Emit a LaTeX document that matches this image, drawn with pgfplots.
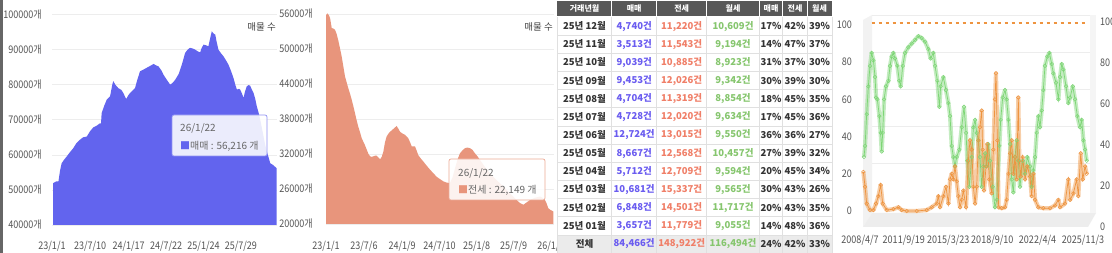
\documentclass[border=0pt]{standalone}
\usepackage{fontspec}
\setmainfont{Noto Sans CJK KR}
\newfontfamily\tickfam[FakeStretch=0.86]{Noto Sans CJK KR}
\usepackage{pgfplots}
\pgfplotsset{compat=1.18}
\usepackage{pgfplotstable}

\definecolor{mmblue}{HTML}{6264EE}
\definecolor{jssal}{HTML}{E8957C}
\definecolor{lblc}{HTML}{555555}
\definecolor{txtdark}{HTML}{333333}
\definecolor{tblue}{HTML}{6A5CF0}
\definecolor{tred}{HTML}{F07F68}
\definecolor{tgr}{HTML}{86C66E}
\definecolor{hdr}{HTML}{585858}
\definecolor{cgreen}{HTML}{7ED676}
\definecolor{corange}{HTML}{EE9440}

\newcommand\tickfont{\tickfam\fontsize{10.5}{12}\selectfont}
\newcommand\tabfont{\fontsize{9.5}{11}\selectfont\bfseries}

\pgfplotstableread{
x y
5 51900
20 52400
32 52400
40 55500
48 57600
60 58600
73 59500
90 60800
106 61900
120 63200
139 64300
155 65000
173 65200
189 66700
205 67800
222 68300
239 69000
244 69000
247 71900
260 74000
272 75700
289 76700
300 80000
305 81000
315 80000
330 79000
345 78500
355 77600
369 75900
380 77000
388 77600
400 78300
413 79000
425 81500
438 83800
455 84300
471 84800
490 85400
505 85900
518 85500
530 85200
545 84000
554 82900
571 81400
588 80000
600 80500
613 81400
630 83000
646 85700
655 87500
662 89000
675 90000
687 90500
700 90300
712 90000
725 89500
737 89200
745 90500
754 91400
768 91200
778 90900
788 93500
795 95200
805 94500
812 94300
820 92000
828 90000
840 89000
853 88100
865 87000
878 85700
890 84000
903 81900
912 80000
920 78600
930 78800
936 78600
945 77500
953 76200
960 78000
969 79500
978 79900
986 79700
995 78500
1003 77600
1011 76000
1019 73800
1028 72000
1036 70000
1050 66000
1060 63000
1069 60952
1080 58800
1086 57600
1100 57100
1117 56216
}\tA

\pgfplotstableread{
x y
0 55800
7 56100
14 55800
20 55300
28 53600
36 53500
44 53300
52 52600
60 51500
68 50200
77 48700
85 47000
93 45300
101 44300
109 43300
118 42300
126 41300
134 40200
142 39000
150 37800
158 36700
166 35800
175 34700
183 34100
191 33500
200 32700
208 32000
216 31600
224 31500
232 31600
240 31700
248 31700
256 31400
265 31100
273 31500
281 32400
289 34000
297 35000
306 35500
314 35800
330 36300
346 36800
355 36300
363 35800
375 35500
387 35300
395 35000
403 34700
412 34000
420 33300
428 33300
436 33300
444 32600
452 31800
465 31200
477 30700
493 30000
510 29300
526 28700
542 28100
558 27700
575 27300
591 27100
607 27000
620 28000
632 29500
644 31000
656 32100
668 32600
681 33000
693 33100
705 33000
718 32700
730 32100
742 31600
754 31000
778 29800
803 28700
836 27500
869 26400
900 25300
934 24100
950 23600
967 23300
983 23700
999 24100
1024 24500
1048 24700
1060 24500
1073 24100
1081 23500
1089 22700
1100 22400
1114 22149
}\tB

\pgfplotstableread{
x y
2008.58 29
2008.66 35
2008.79 52
2008.92 67
2009.05 78
2009.18 85
2009.32 81
2009.45 72
2009.53 61
2009.63 60
2009.79 51
2009.89 42
2009.97 32
2010.05 42
2010.16 60
2010.31 67
2010.50 70
2010.63 78
2010.76 83
2010.89 85
2011.02 82
2011.21 78
2011.36 70
2011.47 67
2011.63 78
2011.81 85
2012.07 88
2012.34 90
2012.60 92
2012.86 94
2013.12 93
2013.39 91
2013.65 87
2013.83 82
2014.04 85
2014.18 78
2014.36 70
2014.52 56
2014.62 67
2014.83 72
2015.04 65
2015.23 58
2015.36 51
2015.49 35
2015.62 29
2015.75 24
2015.88 29
2016.09 33
2016.28 45
2016.46 56
2016.62 42
2016.72 27
2016.88 13
2017.07 29
2017.20 45
2017.33 49
2017.46 42
2017.59 38
2017.72 29
2017.85 13
2017.98 24
2018.12 31
2018.25 24
2018.38 36
2018.51 27
2018.72 13
2018.90 2
2019.04 6
2019.25 35
2019.35 49
2019.51 61
2019.69 65
2019.82 60
2019.96 49
2020.09 36
2020.22 17
2020.35 10
2020.48 29
2020.61 38
2020.74 27
2020.87 13
2021.08 27
2021.27 20
2021.45 29
2021.66 24
2021.79 13
2021.93 22
2022.06 29
2022.19 42
2022.32 51
2022.45 45
2022.58 54
2022.71 65
2022.84 78
2023.03 83
2023.19 85
2023.37 79
2023.50 74
2023.71 69
2023.90 60
2024.03 72
2024.16 79
2024.29 76
2024.50 67
2024.68 58
2024.82 61
2025.03 67
2025.21 60
2025.39 51
2025.60 45
2025.73 49
2025.87 38
2026.00 33
2026.13 27
}\tG

\pgfplotstableread{
x y
2008.53 21
2008.66 13
2008.79 4
2009.05 0.5
2009.32 0.5
2009.53 4
2009.71 8
2009.89 14
2010.05 4
2010.37 0.5
2010.89 1
2011.29 2
2011.55 0.5
2011.94 0
2012.73 0
2013.52 0.5
2013.91 2
2014.31 4
2014.44 8
2014.57 2
2014.83 8
2015.04 13
2015.23 4
2015.36 17
2015.49 20
2015.62 17
2015.75 24
2015.88 16
2016.01 8
2016.15 2
2016.28 6
2016.41 11
2016.62 2
2016.80 27
2016.93 38
2017.07 33
2017.20 13
2017.33 4
2017.46 13
2017.59 38
2017.72 45
2017.85 54
2017.93 33
2018.04 11
2018.20 24
2018.30 36
2018.46 17
2018.64 9.5
2018.77 33
2018.90 60
2018.98 74
2019.09 38
2019.19 2
2019.43 1.5
2019.69 2
2019.82 6
2019.96 20
2020.09 31
2020.22 38
2020.35 20
2020.48 29
2020.61 17
2020.74 61
2020.82 27
2020.93 18.5
2021.08 29
2021.27 17
2021.45 24
2021.66 18.5
2021.79 8
2021.93 20
2022.06 6
2022.32 2
2022.71 1.5
2023.24 1.5
2023.63 3
2023.90 6
2024.03 2
2024.42 4
2024.68 17
2024.82 6
2025.08 9.5
2025.34 17
2025.47 8
2025.66 31
2025.82 17
2026.00 24
2026.13 20
}\tO

\newcommand{\trow}[8]{%
  \node[tc,text=txtdark] at (584.5,#1) {#2};
  \node[tc,text=tblue] at (634.2,#1) {#3};
  \node[tc,text=tred] at (681.7,#1) {#4};
  \node[tc,text=tgr] at (733,#1) {#5};
  \node[tc,text=txtdark] at (771,#1) {#6};
  \node[tc,text=txtdark] at (795,#1) {#7};
  \node[tc,text=txtdark] at (819.5,#1) {#8};
}

\begin{document}
\begin{tikzpicture}[x=1pt,y=1pt, tc/.style={inner sep=0pt,font=\tabfont}]
\clip (0,0) rectangle (1112,253);
\fill[white] (0,0) rectangle (1112,253);
\fill[black!60] (0,0) rectangle (2.5,253);

% ---------- chart 1 ----------
\begin{axis}[
  at={(52pt,28pt)}, anchor=south west, scale only axis,
  width=224.5pt, height=210.5pt,
  xmin=0, xmax=1117, ymin=40000, ymax=100000,
  axis line style={draw=none}, major tick length=0pt,
  scaled y ticks=false, scaled x ticks=false,
  ymajorgrids, grid style={color=black!7, line width=0.6pt},
  xtick={0,190,381,568,754,940},
  xticklabels={23/1/1,23/7/10,24/1/17,24/7/22,25/1/24,25/7/29},
  ytick={40000,50000,60000,70000,80000,90000,100000},
  yticklabels={40000개,50000개,60000개,70000개,80000개,90000개,100000개},
  tick label style={font=\tickfont, text=lblc, inner sep=0pt},
  xticklabel style={anchor=center, yshift=-21.5pt},
  yticklabel style={anchor=east, xshift=-10pt},
]
\addplot[fill=mmblue, draw=none] table {\tA} \closedcycle;
\end{axis}
\node[anchor=east, inner sep=0pt, text=black!75, font=\fontsize{9.5}{11}\selectfont] at (276,226) {매물 수};
\draw[mmblue!70, fill=white, fill opacity=0.88, rounded corners=2pt, line width=0.7pt] (172,97) rectangle (267,138);
\node[anchor=west, inner sep=0pt, text=black!60, font=\fontsize{10}{12}\selectfont] at (180,125) {26/1/22};
\node[anchor=west, inner sep=0pt, text=black!60, font=\fontsize{10}{12}\selectfont] at (180,107) {\textcolor{mmblue}{■}매매 : 56,216 개};

% ---------- chart 2 ----------
\begin{axis}[
  at={(326pt,29pt)}, anchor=south west, scale only axis,
  width=228pt, height=210pt,
  xmin=0, xmax=1117, ymin=20000, ymax=56000,
  axis line style={draw=none}, major tick length=0pt,
  scaled y ticks=false, scaled x ticks=false,
  ymajorgrids, grid style={color=black!7, line width=0.6pt},
  xtick={0,186,373,556,738,919,1102},
  xticklabels={23/1/1,23/7/6,24/1/9,24/7/10,25/1/8,25/7/9,26/1/7},
  ytick={20000,26000,32000,38000,44000,50000,56000},
  yticklabels={20000개,26000개,32000개,38000개,44000개,50000개,56000개},
  tick label style={font=\tickfont, text=lblc, inner sep=0pt},
  xticklabel style={anchor=center, yshift=-22.5pt},
  yticklabel style={anchor=east, xshift=-13pt},
]
\addplot[fill=jssal, draw=none] table {\tB} \closedcycle;
\end{axis}
\node[anchor=east, inner sep=0pt, text=black!75, font=\fontsize{9.5}{11}\selectfont] at (553,226) {매물 수};
\draw[jssal!80, fill=white, fill opacity=0.88, rounded corners=2pt, line width=0.7pt] (449,53) rectangle (545,94);
\node[anchor=west, inner sep=0pt, text=black!60, font=\fontsize{10}{12}\selectfont] at (458,80) {26/1/22};
\node[anchor=west, inner sep=0pt, text=black!60, font=\fontsize{10}{12}\selectfont] at (458,63) {\textcolor{jssal}{■}전세 : 22,149 개};

% ---------- table ----------
\fill[white] (557,0) rectangle (834,253);
\fill[hdr] (557,237) rectangle (832,251.5);
\fill[black!8] (557,0) rectangle (832,18.2);
\foreach \k in {1,...,12} \draw[black!12, line width=0.5pt] (557,{236-18.15*\k}) -- (832,{236-18.15*\k});
\foreach \xx in {557,611.7,656.7,706.7,759.3,782.7,807.3,832} \draw[black!12, line width=0.5pt] (\xx,0) -- (\xx,236);
\foreach \xx in {611.7,656.7,706.7,759.3,782.7,807.3} \draw[white, line width=1pt] (\xx,237) -- (\xx,251.5);
\foreach \xx/\t in {584.5/거래년월,634.2/매매,681.7/전세,733/월세,771/매매,795/전세,819.5/월세}
  \node[inner sep=0pt, text=white, font=\fontsize{8}{10}\selectfont\bfseries] at (\xx,244.2) {\t};
\trow{226.9}{25년 12월}{4,740건}{11,220건}{10,609건}{17\%}{42\%}{39\%}
\trow{208.8}{25년 11월}{3,513건}{11,543건}{9,194건}{14\%}{47\%}{37\%}
\trow{190.6}{25년 10월}{9,039건}{10,885건}{8,923건}{31\%}{37\%}{30\%}
\trow{172.5}{25년 09월}{9,453건}{12,026건}{9,342건}{30\%}{39\%}{30\%}
\trow{154.3}{25년 08월}{4,704건}{11,319건}{8,854건}{18\%}{45\%}{35\%}
\trow{136.2}{25년 07월}{4,728건}{12,020건}{9,634건}{17\%}{45\%}{36\%}
\trow{118.0}{25년 06월}{12,724건}{13,015건}{9,550건}{36\%}{36\%}{27\%}
\trow{99.9}{25년 05월}{8,667건}{12,568건}{10,457건}{27\%}{39\%}{32\%}
\trow{81.7}{25년 04월}{5,712건}{12,709건}{9,594건}{20\%}{45\%}{34\%}
\trow{63.6}{25년 03월}{10,681건}{15,337건}{9,565건}{30\%}{43\%}{26\%}
\trow{45.4}{25년 02월}{6,848건}{14,501건}{11,717건}{20\%}{43\%}{35\%}
\trow{27.3}{25년 01월}{3,657건}{11,779건}{9,055건}{14\%}{48\%}{36\%}
\trow{9.1}{전체}{84,466건}{148,922건}{116,494건}{24\%}{42\%}{33\%}

% ---------- chart 4 ----------
\fill[black!5] (863,233) -- (872,238) -- (872,40) -- (863,26) -- cycle;
\fill[black!7] (863,26) -- (872,40) -- (1096,40) -- (1088,26) -- cycle;
\fill[black!4] (1090,238) rectangle (1096,40);
\begin{axis}[
  at={(872pt,53pt)}, anchor=south west, scale only axis,
  width=218pt, height=185pt,
  xmin=0, xmax=1, ymin=0, ymax=100,
  axis line style={draw=none}, major tick length=0pt,
  ytick={20,40,60,80,100}, xtick=\empty, yticklabels={},
  ymajorgrids, grid style={color=black!7, line width=0.6pt},
]
\end{axis}
\begin{axis}[
  at={(859.2pt,26pt)}, anchor=south west, scale only axis,
  width=230.8pt, height=205pt,
  xmin=2008.2, xmax=2026.39, ymin=0, ymax=100,
  axis y line*=right, hide x axis,
  axis line style={draw=none}, major tick length=0pt,
  ytick={0,20,40,60,80,100}, yticklabels={0,20,40,60,80,100},
  tick label style={font=\tickfont, text=lblc, inner sep=0pt},
  yticklabel style={anchor=west, xshift=10pt},
]
\end{axis}
\begin{axis}[
  at={(859.2pt,42pt)}, anchor=south west, scale only axis,
  width=230.8pt, height=186pt,
  xmin=2008.2, xmax=2026.39, ymin=0, ymax=100, clip=false,
  axis line style={draw=none}, major tick length=0pt,
  xtick={2008.265,2011.715,2015.22,2018.69,2022.255,2025.84},
  xticklabels={2008/4/7,2011/9/19,2015/3/23,2018/9/10,2022/4/4,2025/11/3},
  ytick={0,20,40,60,80,100}, yticklabels={0,20,40,60,80,100},
  tick label style={font=\tickfont, text=lblc, inner sep=0pt},
  xticklabel style={anchor=center, yshift=-29.5pt},
  yticklabel style={anchor=east, xshift=-7.2pt},
]
\addplot[corange, line width=1.6pt, dash pattern=on 3.5pt off 3.5pt] coordinates {(2009.18,101) (2026.26,101)};
\addplot[cgreen, opacity=0.45, line width=4.2pt, line join=round] table {\tG};
\addplot[cgreen, line width=0.7pt, mark=o, mark size=1.8pt, mark options={line width=0.5pt}] table {\tG};
\addplot[corange, opacity=0.45, line width=4.2pt, line join=round] table {\tO};
\addplot[corange, line width=0.7pt, mark=o, mark size=1.8pt, mark options={line width=0.5pt}] table {\tO};
\end{axis}
\end{tikzpicture}
\end{document}
